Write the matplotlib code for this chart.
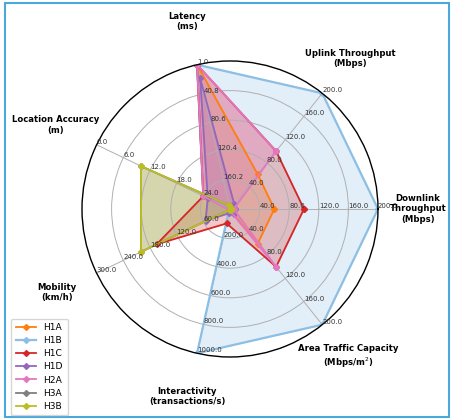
import numpy as np
import matplotlib
matplotlib.use("Agg")
import matplotlib.pyplot as plt
from matplotlib.patches import Rectangle

# axes of the radar, counter-clockwise starting at 3 o'clock
categories = ['Downlink\nThroughput\n(Mbps)', 'Uplink Throughput\n(Mbps)', 'Latency\n(ms)',
              'Location Accuracy\n(m)', 'Mobility\n(km/h)', 'Interactivity\n(transactions/s)',
              'Area Traffic Capacity\n(Mbps/m$^2$)']
# value at centre and value at outer ring for every axis
axis_low = [0, 0, 200, 30, 0, 0, 0]
axis_high = [200, 200, 1, 0, 300, 1000, 200]

series_names = ['H1A', 'H1B', 'H1C', 'H1D', 'H2A', 'H3A', 'H3B']
h1a = [60, 60, 1, 24, 3, 5, 60]
h1b = [200, 200, 1, 24, 2, 1000, 200]
h1c = [100, 100, 1, 24, 165, 100, 100]
h1d = [7, 9, 20, 25, 55, 30, 9]
h2a = [5, 100, 1, 24, 3, 10, 100]
h3a = [2, 2, 195, 10, 200, 5, 2]
h3b = [2, 2, 195, 10, 200, 5, 2]
series_values = [h1a, h1b, h1c, h1d, h2a, h3a, h3b]
colors = ['tab:orange', '#8dbfe4', 'tab:red', 'tab:purple', 'tab:pink', 'tab:gray', 'tab:olive']


def normalise(values):
    lo = np.array(axis_low, dtype=float)
    hi = np.array(axis_high, dtype=float)
    return (np.array(values, dtype=float) - lo) / (hi - lo)


n = len(categories)
angles = np.arange(n) * 2 * np.pi / n

fig = plt.figure(figsize=(4.51, 4.2), dpi=100)
ax = fig.add_axes([0.1818, 0.15, 0.6563, 0.7048], projection='polar')
ax.set_ylim(0, 1)
ax.set_xticks(angles)
ax.set_xticklabels([])
ax.set_yticks([0.2, 0.4, 0.6, 0.8])
ax.set_yticklabels([])
ax.grid(color='#b0b0b0', linewidth=0.7)
ax.spines['polar'].set_color('black')
ax.spines['polar'].set_linewidth(1.0)

for name, vals, c in zip(series_names, series_values, colors):
    r = normalise(vals)
    r = np.append(r, r[0])
    th = np.append(angles, angles[0])
    lw = 1.6 if name == 'H1B' else 1.3
    ax.plot(th, r, color=c, lw=lw, marker='D', markersize=3, label=name)
    ax.fill(th, r, color=c, alpha=0.25)

# tick labels along each spoke
for i in range(n):
    for frac in [0.2, 0.4, 0.6, 0.8, 1.0]:
        val = axis_low[i] + frac * (axis_high[i] - axis_low[i])
        ax.text(angles[i], frac, '%.1f' % val, fontsize=5, color='#333333',
                ha='left', va='bottom')

label_r = [1.27, 1.3, 1.3, 1.31, 1.3, 1.3, 1.28]
for i in range(n):
    ax.text(angles[i], label_r[i], categories[i], fontsize=6.1, fontweight='bold',
            ha='center', va='center')

fig.legend(loc='lower left', bbox_to_anchor=(0.015, 0.0), fontsize=6.6,
           handlelength=2.2, labelspacing=0.45, borderpad=0.5, framealpha=0.8)

fig.patches.append(Rectangle((0.011, 0.008), 0.985, 0.985, transform=fig.transFigure,
                             fill=False, edgecolor='#4aa8dc', linewidth=1.5))

fig.savefig('out.png', dpi=100)
